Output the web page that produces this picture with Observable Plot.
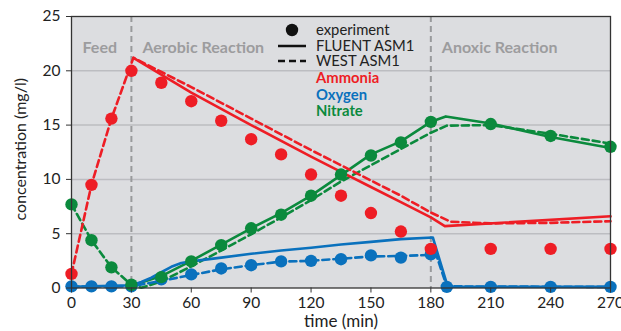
<!DOCTYPE html>
<html>
<head>
<meta charset="utf-8">
<script src="https://cdn.jsdelivr.net/npm/d3@7"></script>
<script src="https://cdn.jsdelivr.net/npm/@observablehq/plot@0.6"></script>
<style>
  html, body { margin: 0; padding: 0; background: #fff; }
  #chart svg { display: block; }
</style>
</head>
<body>
<div id="chart"></div>
<script>
// ---- tick labels / axis titles ----
const xTicks = [0, 30, 60, 90, 120, 150, 180, 210, 240, 270];
const yTicks = [0, 5, 10, 15, 20, 25];
const gridValues = [5, 10, 15, 20];
const xTitle = "time (min)";
const yTitle = "concentration (mg/l)";

// ---- phases ----
const phaseNames = ["Feed", "Aerobic Reaction", "Anoxic Reaction"];
const phaseStarts = [0, 30, 180];
const phaseBounds = [30, 180];

// ---- experiment ----
const expTime = [0, 10, 20, 30, 45, 60, 75, 90, 105, 120, 135, 150, 165, 180, 210, 240, 270];
const expAmmonia = [1.3, 9.5, 15.6, 20.0, 18.9, 17.2, 15.4, 13.7, 12.3, 10.45, 8.5, 6.9, 5.2, 3.6, 3.6, 3.6, 3.6];
const expNitrate = [7.7, 4.4, 1.9, 0.3, 1.0, 2.45, 3.95, 5.5, 6.75, 8.5, 10.45, 12.2, 13.4, 15.3, 15.1, 14.0, 13.0];
const oxyTime = [0, 10, 20, 30, 45, 60, 75, 90, 105, 120, 135, 150, 165, 180, 188, 210, 240, 270];
const expOxygen = [0.15, 0.15, 0.15, 0.15, 0.8, 1.25, 1.8, 2.1, 2.45, 2.5, 2.65, 3.0, 2.8, 3.1, 0.1, 0.1, 0.1, 0.1];

// ---- FLUENT ASM1 (solid) ----
const fluentAmmoniaT = [31, 60, 90, 120, 135, 150, 165, 180, 187, 270];
const fluentAmmoniaV = [21.2, 18.0, 15.0, 12.1, 10.7, 9.3, 7.9, 6.5, 5.7, 6.6];
const fluentOxygenT = [0, 30, 35, 40, 45, 50, 55, 60, 75, 90, 105, 120, 135, 150, 165, 181, 188, 191, 270];
const fluentOxygenV = [0.12, 0.25, 0.55, 0.95, 1.45, 1.95, 2.3, 2.45, 2.8, 3.15, 3.45, 3.7, 4.0, 4.25, 4.5, 4.65, 0.4, 0.12, 0.1];
const fluentNitrateT = [30, 45, 60, 75, 90, 105, 120, 135, 150, 165, 180, 187.5, 210, 240, 270];
const fluentNitrateV = [0.2, 1.1, 2.5, 4.0, 5.5, 6.9, 8.5, 10.4, 12.3, 13.5, 15.3, 15.8, 15.15, 13.9, 12.9];

// ---- WEST ASM1 (dashed) ----
const westAmmoniaT = [0, 10, 20, 31, 60, 90, 120, 135, 150, 165, 180, 190, 210, 240, 270];
const westAmmoniaV = [1.3, 9.5, 15.6, 21.2, 18.5, 15.6, 12.7, 11.3, 9.9, 8.5, 6.95, 6.1, 5.95, 6.0, 6.15];
const westOxygenT = [0, 30, 45, 60, 75, 90, 105, 120, 135, 150, 165, 180, 183, 188, 270];
const westOxygenV = [0.12, 0.15, 0.65, 1.2, 1.72, 2.1, 2.43, 2.5, 2.7, 2.9, 2.95, 3.05, 2.9, 0.15, 0.1];
const westNitrateT = [0, 10, 20, 30, 35, 45, 60, 75, 90, 105, 120, 135, 150, 165, 180, 188, 210, 240, 270];
const westNitrateV = [7.7, 4.4, 1.9, 0.3, 0.02, 0.6, 2.0, 3.45, 4.95, 6.5, 8.1, 9.8, 11.3, 12.8, 14.3, 14.95, 15.0, 14.2, 13.3];

const RED = "#ee1d25", BLUE = "#0a71bd", GREEN = "#0b8a3d";
const FONT = "Lato, 'Open Sans', sans-serif";

const zip = (ts, vs) => ts.map((t, i) => ({t, v: vs[i]}));
const phases = phaseNames.map((name, i) => ({name, start: phaseStarts[i]}));

const lineOpts = (color, dashed) => ({
  x: "t", y: "v", stroke: color, strokeWidth: 2.6,
  strokeDasharray: dashed ? "7,4" : null, curve: "linear"
});
const dotOpts = color => ({x: "t", y: "v", r: 6.2, fill: color, stroke: "none"});

const plot = Plot.plot({
  width: 621,
  height: 331,
  marginLeft: 71,
  marginRight: 11,
  marginTop: 16,
  marginBottom: 43.5,
  style: {fontFamily: FONT, fontSize: "15.5px", color: "#222", background: "#fff"},
  x: {domain: [0, 270]},
  y: {domain: [0, 25]},
  marks: [
    Plot.frame({fill: "#dcdde0", stroke: "none"}),
    Plot.ruleY(gridValues, {stroke: "#bcbdc1", strokeWidth: 1.5}),
    Plot.ruleX(phaseBounds, {stroke: "#999a9c", strokeWidth: 2, strokeDasharray: "6,4"}),
    Plot.text(phases, {x: "start", text: "name", frameAnchor: "top", dy: 25, dx: 11,
      textAnchor: "start", fill: "#9c9c9e", fontWeight: "bold", fontSize: 16}),
    Plot.line(zip(westNitrateT, westNitrateV), lineOpts(GREEN, true)),
    Plot.line(zip(fluentNitrateT, fluentNitrateV), lineOpts(GREEN, false)),
    Plot.line(zip(westOxygenT, westOxygenV), lineOpts(BLUE, true)),
    Plot.line(zip(fluentOxygenT, fluentOxygenV), lineOpts(BLUE, false)),
    Plot.line(zip(westAmmoniaT, westAmmoniaV), lineOpts(RED, true)),
    Plot.line(zip(fluentAmmoniaT, fluentAmmoniaV), lineOpts(RED, false)),
    Plot.dot(zip(oxyTime, expOxygen), dotOpts(BLUE)),
    Plot.dot(zip(expTime, expNitrate), dotOpts(GREEN)),
    Plot.dot(zip(expTime, expAmmonia), dotOpts(RED)),
    Plot.axisX({ticks: xTicks, tickSize: 5, tickPadding: 4, label: null, stroke: "#333"}),
    Plot.axisY({ticks: yTicks, tickSize: 5, tickPadding: 6, label: null, stroke: "#333"}),
    Plot.text([xTitle], {text: d => d, frameAnchor: "bottom", dy: 34, lineAnchor: "middle",
      textAnchor: "middle", fontSize: 17, fill: "#222"}),
    Plot.text([yTitle], {text: d => d, frameAnchor: "left", dx: -51, dy: -3, rotate: -90,
      textAnchor: "middle", lineAnchor: "middle", fontSize: 16, fill: "#222"}),
    Plot.frame({stroke: "#333", strokeWidth: 1.3})
  ]
});

document.getElementById("chart").appendChild(plot);

// ---- legend (inside frame, top centre) ----
const svg = d3.select(plot);
const lg = svg.append("g")
  .attr("font-family", FONT)
  .attr("font-size", 14.8)
  .attr("text-anchor", "start");
const lx0 = 278, lx1 = 306, tx = 316;
lg.append("circle").attr("cx", 292).attr("cy", 30).attr("r", 6.2).attr("fill", "#111");
lg.append("line").attr("x1", lx0).attr("x2", lx1).attr("y1", 46).attr("y2", 46)
  .attr("stroke", "#111").attr("stroke-width", 2.5);
lg.append("line").attr("x1", lx0).attr("x2", lx1).attr("y1", 61).attr("y2", 61)
  .attr("stroke", "#111").attr("stroke-width", 2.5).attr("stroke-dasharray", "7,4");
const legendItems = [
  {text: "experiment", y: 30, fill: "#222", bold: false},
  {text: "FLUENT ASM1", y: 45.7, fill: "#222", bold: false},
  {text: "WEST ASM1", y: 60.7, fill: "#222", bold: false},
  {text: "Ammonia", y: 78.3, fill: RED, bold: true},
  {text: "Oxygen", y: 94.5, fill: BLUE, bold: true},
  {text: "Nitrate", y: 110.5, fill: GREEN, bold: true}
];
lg.selectAll("text.lg").data(legendItems).join("text")
  .attr("x", tx).attr("y", d => d.y).attr("dy", "0.35em")
  .attr("text-anchor", "start")
  .attr("fill", d => d.fill).attr("font-weight", d => d.bold ? "bold" : "normal")
  .text(d => d.text);
</script>
</body>
</html>
